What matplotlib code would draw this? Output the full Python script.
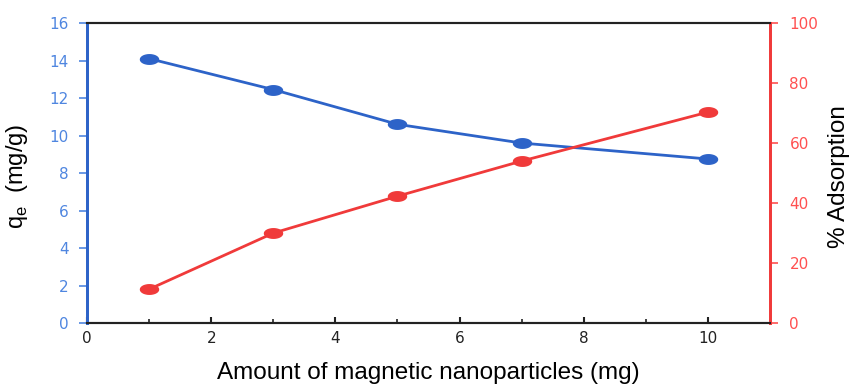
import numpy as np
import matplotlib.pyplot as plt
from matplotlib.path import Path
from matplotlib.ticker import MultipleLocator

plt.rcParams['font.family'] = ['Liberation Sans', 'DejaVu Sans']

dose = [1, 3, 5, 7, 10]
qe = [14.1, 12.45, 10.6, 9.6, 8.75]
adsorption = [11.3, 30.0, 42.3, 54.0, 70.3]

blue = '#2d63c8'
red = '#f03a3a'
blue_txt = '#4f86e0'
red_txt = '#ff5050'

# stretched ellipse marker like the original
t = np.linspace(0, 2 * np.pi, 40)
ell = Path(np.column_stack([1.9 * np.cos(t), np.sin(t)]), closed=True)

fig = plt.figure(figsize=(8.49, 3.87), dpi=100)
ax = fig.add_axes([0.1025, 0.165, 0.8045, 0.7756])
ax2 = ax.twinx()

ax.plot(dose, qe, color=blue, lw=2, marker=ell, ms=13, zorder=3)
ax2.plot(dose, adsorption, color=red, lw=2, marker=ell, ms=13, zorder=3)

ax.set_xlim(0, 11)
ax.set_ylim(0, 16)
ax2.set_ylim(0, 100)

ax.set_xticks([0, 2, 4, 6, 8, 10])
ax.xaxis.set_minor_locator(MultipleLocator(1))
ax.yaxis.set_major_locator(MultipleLocator(2))
ax2.yaxis.set_major_locator(MultipleLocator(20))

ax.tick_params(axis='x', direction='in', length=4, width=1.5, colors='#222222', pad=6,
               labelsize=11, labelfontfamily='DejaVu Sans')
ax.tick_params(axis='x', which='minor', direction='in', length=3, width=1.2, colors='#222222')
ax.tick_params(axis='y', direction='out', length=6, width=1.2, colors=blue_txt, pad=7,
               labelsize=11, labelfontfamily='DejaVu Sans')
ax2.tick_params(axis='y', direction='out', length=6, width=1.2, colors=red_txt, pad=8,
                labelsize=11, labelfontfamily='DejaVu Sans')

for a in (ax, ax2):
    a.spines['left'].set_color(blue)
    a.spines['left'].set_linewidth(2)
    a.spines['right'].set_color(red)
    a.spines['right'].set_linewidth(2)
    a.spines['top'].set_color('#222222')
    a.spines['top'].set_linewidth(1.5)
    a.spines['bottom'].set_color('#222222')
    a.spines['bottom'].set_linewidth(1.5)

ax.set_xlabel('Amount of magnetic nanoparticles (mg)', fontsize=17.5, labelpad=11)
ax.set_ylabel(r'q$_\mathregular{e}$  (mg/g)', fontsize=17)
ax2.set_ylabel('% Adsorption', fontsize=17.5)
ax.yaxis.set_label_coords(-0.083, 0.49)
ax2.yaxis.set_label_coords(1.085, 0.49)

fig.savefig('out.png', dpi=100)
